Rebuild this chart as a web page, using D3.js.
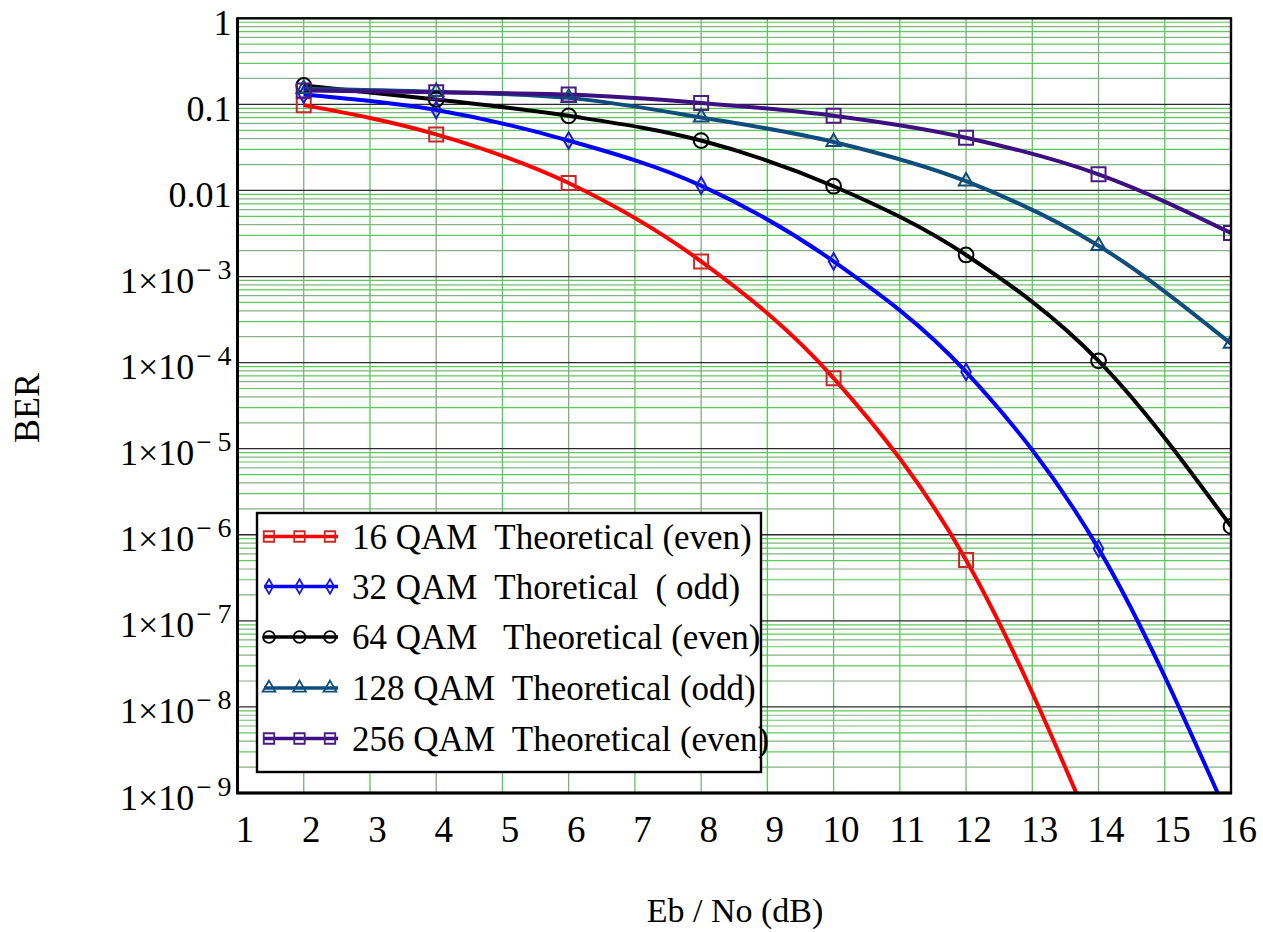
<!DOCTYPE html>
<html>
<head>
<meta charset="utf-8">
<script src="https://cdn.jsdelivr.net/npm/d3@7"></script>
<style>
  body { margin: 0; background: #fff; }
  text { font-family: "Liberation Serif", "Times New Roman", serif; fill: #000; }
</style>
</head>
<body>
<svg id="chart" width="1263" height="932"></svg>
<script>
// Eb/No sample points (dB)
const ebno = [2, 4, 6, 8, 10, 12, 14, 16];

// Bit error rate per modulation order
const ber16  = [0.098, 0.0448, 0.0122, 1.5e-3, 6.6e-5, 5.1e-7, 2.5e-10, null];
const ber32  = [0.13, 0.086, 0.038, 0.0114, 1.5e-3, 7.8e-5, 6.9e-7, 4.5e-10];
const ber64  = [0.166, 0.114, 0.0736, 0.038, 0.0112, 1.78e-3, 1.05e-4, 1.25e-6];
const ber128 = [0.152, 0.14, 0.119, 0.0705, 0.0366, 0.0128, 2.28e-3, 1.66e-4];
const ber256 = [0.145, 0.138, 0.13, 0.104, 0.0737, 0.041, 0.0154, 3.2e-3];

const legendLabels = [
  "16 QAM  Theoretical (even)",
  "32 QAM  Thoretical  ( odd)",
  "64 QAM   Theoretical (even)",
  "128 QAM  Theoretical (odd)",
  "256 QAM  Theoretical (even)"
];

// Axis ticks
const xTicks = [1, 2, 3, 4, 5, 6, 7, 8, 9, 10, 11, 12, 13, 14, 15, 16];
const yExponents = [0, -1, -2, -3, -4, -5, -6, -7, -8, -9];

const series = [
  { values: ber16,  line: "#ff0000", mark: "#c82828", shape: "square" },
  { values: ber32,  line: "#0000ff", mark: "#1a1ad8", shape: "diamond" },
  { values: ber64,  line: "#000000", mark: "#000000", shape: "circle" },
  { values: ber128, line: "#0f4d7c", mark: "#0f4d7c", shape: "triangle" },
  { values: ber256, line: "#3e0f80", mark: "#4a1a86", shape: "square" }
].map((s, i) => ({ ...s, label: legendLabels[i] }));

const L = 237.5, R = 1231, T = 18.3, B = 793;

const svg = d3.select("#chart");
const x = d3.scaleLinear().domain([1, 16]).range([L, R]);
const y = d3.scaleLog().domain([1e-9, 1]).range([B, T]);

// Grid
const grid = svg.append("g");
const minor = [];
for (let k = -9; k < 0; k++) for (let m = 2; m <= 9; m++) minor.push(m * Math.pow(10, k));
grid.selectAll("line.hmin").data(minor).join("line")
  .attr("x1", L).attr("x2", R)
  .attr("y1", d => y(d)).attr("y2", d => y(d))
  .attr("stroke", (d, i) => i % 2 ? "#5cc95c" : "#86b086").attr("stroke-width", 1.2);
grid.selectAll("line.v").data(xTicks.slice(1, -1)).join("line")
  .attr("x1", d => x(d)).attr("x2", d => x(d))
  .attr("y1", T).attr("y2", B)
  .attr("stroke", (d) => d % 2 ? "#4fcf4f" : "#7fae7f").attr("stroke-width", 1.3);
grid.selectAll("line.hmaj").data(yExponents.slice(1, -1)).join("line")
  .attr("x1", L).attr("x2", R)
  .attr("y1", d => y(Math.pow(10, d))).attr("y2", d => y(Math.pow(10, d)))
  .attr("stroke", "#2a2a2a").attr("stroke-width", 1.3);

// Series
svg.append("defs").append("clipPath").attr("id", "plotclip")
  .append("rect").attr("x", L).attr("y", T).attr("width", R - L).attr("height", B - T);

const shapes = {
  square: d3.symbol(d3.symbolSquare, 196),
  diamond: d3.symbol(d3.symbolDiamond, 80),
  circle: d3.symbol(d3.symbolCircle, 170),
  triangle: d3.symbol(d3.symbolTriangle, 90)
};
const legendShapes = {
  square: d3.symbol(d3.symbolSquare, 110),
  diamond: d3.symbol(d3.symbolDiamond, 60),
  circle: d3.symbol(d3.symbolCircle, 110),
  triangle: d3.symbol(d3.symbolTriangle, 70)
};

const line = d3.line()
  .defined(d => d.v != null)
  .x(d => x(d.x)).y(d => y(d.v))
  .curve(d3.curveMonotoneX);

const plot = svg.append("g").attr("clip-path", "url(#plotclip)");
series.forEach(s => {
  const pts = ebno.map((e, i) => ({ x: e, v: s.values[i] }));
  plot.append("path").datum(pts)
    .attr("d", line)
    .attr("fill", "none").attr("stroke", s.line).attr("stroke-width", 4)
    .attr("stroke-linejoin", "round");
});
series.forEach(s => {
  const pts = ebno.map((e, i) => ({ x: e, v: s.values[i] }))
    .filter(d => d.v != null && d.v >= 1e-9);
  plot.selectAll(null).data(pts).join("path")
    .attr("transform", d => `translate(${x(d.x)},${y(d.v)})`)
    .attr("d", shapes[s.shape]())
    .attr("fill", "none").attr("stroke", s.mark).attr("stroke-width", 2);
});

// Frame
svg.append("rect").attr("x", L).attr("y", T).attr("width", R - L).attr("height", B - T)
  .attr("fill", "none").attr("stroke", "#000").attr("stroke-width", 2.4);
svg.append("line").attr("x1", L).attr("x2", L).attr("y1", T).attr("y2", B + 1)
  .attr("stroke", "#000").attr("stroke-width", 3);
svg.append("line").attr("x1", L - 1).attr("x2", R + 1).attr("y1", B).attr("y2", B)
  .attr("stroke", "#000").attr("stroke-width", 3);

// X axis
const xAxis = svg.append("g").attr("transform", `translate(0,${B})`)
  .call(d3.axisBottom(x).tickValues(xTicks).tickSize(0).tickFormat(d3.format("d")));
xAxis.select(".domain").remove();
xAxis.selectAll("text")
  .attr("y", 49).attr("dy", 0).attr("dx", 7)
  .style("font-size", "37px").style("font-family", "Liberation Serif");

// Y axis
const yAxis = svg.append("g").attr("transform", `translate(${L},0)`)
  .call(d3.axisLeft(y).tickValues(yExponents.map(e => Math.pow(10, e))).tickSize(0));
yAxis.select(".domain").remove();
yAxis.selectAll("text").each(function (d) {
  const t = d3.select(this).text(null)
    .attr("x", -6).attr("dy", 0).attr("y", 16)
    .attr("text-anchor", "end")
    .style("font-size", "36px").style("font-family", "Liberation Serif");
  const e = Math.round(Math.log10(d));
  if (e >= -2) {
    t.text(e === 0 ? "1" : e === -1 ? "0.1" : "0.01");
  } else {
    t.append("tspan").text("1\u00d710");
    t.append("tspan").attr("dy", -14).attr("dx", 2).style("font-size", "27px").text("\u2212");
    t.append("tspan").attr("dx", 6).style("font-size", "28px").text(String(-e));
  }
});

// Axis titles
svg.append("text").attr("transform", "translate(39,408) rotate(-90)")
  .attr("text-anchor", "middle").style("font-size", "36px").text("BER");
svg.append("text").attr("x", 735).attr("y", 922)
  .attr("text-anchor", "middle").style("font-size", "34px").text("Eb / No (dB)");

// Legend
const lg = svg.append("g");
lg.append("rect").attr("x", 257).attr("y", 513).attr("width", 504).attr("height", 259)
  .attr("fill", "#fff").attr("stroke", "#000").attr("stroke-width", 2.4);
const rowY = [536.5, 586.5, 637, 688, 738.5];
const sampleX = [269, 299.5, 330];
series.forEach((s, i) => {
  const g = lg.append("g").attr("transform", `translate(0,${rowY[i]})`);
  g.append("line").attr("x1", 264).attr("x2", 338).attr("y1", 0).attr("y2", 0)
    .attr("stroke", s.line).attr("stroke-width", 3.6);
  g.selectAll(null).data(sampleX).join("path")
    .attr("transform", d => `translate(${d},0)`)
    .attr("d", legendShapes[s.shape]())
    .attr("fill", "none").attr("stroke", s.mark).attr("stroke-width", 1.8);
  g.append("text").attr("x", 352).attr("y", 12)
    .style("font-size", "35px").style("white-space", "pre")
    .text(s.label);
});
</script>
</body>
</html>
